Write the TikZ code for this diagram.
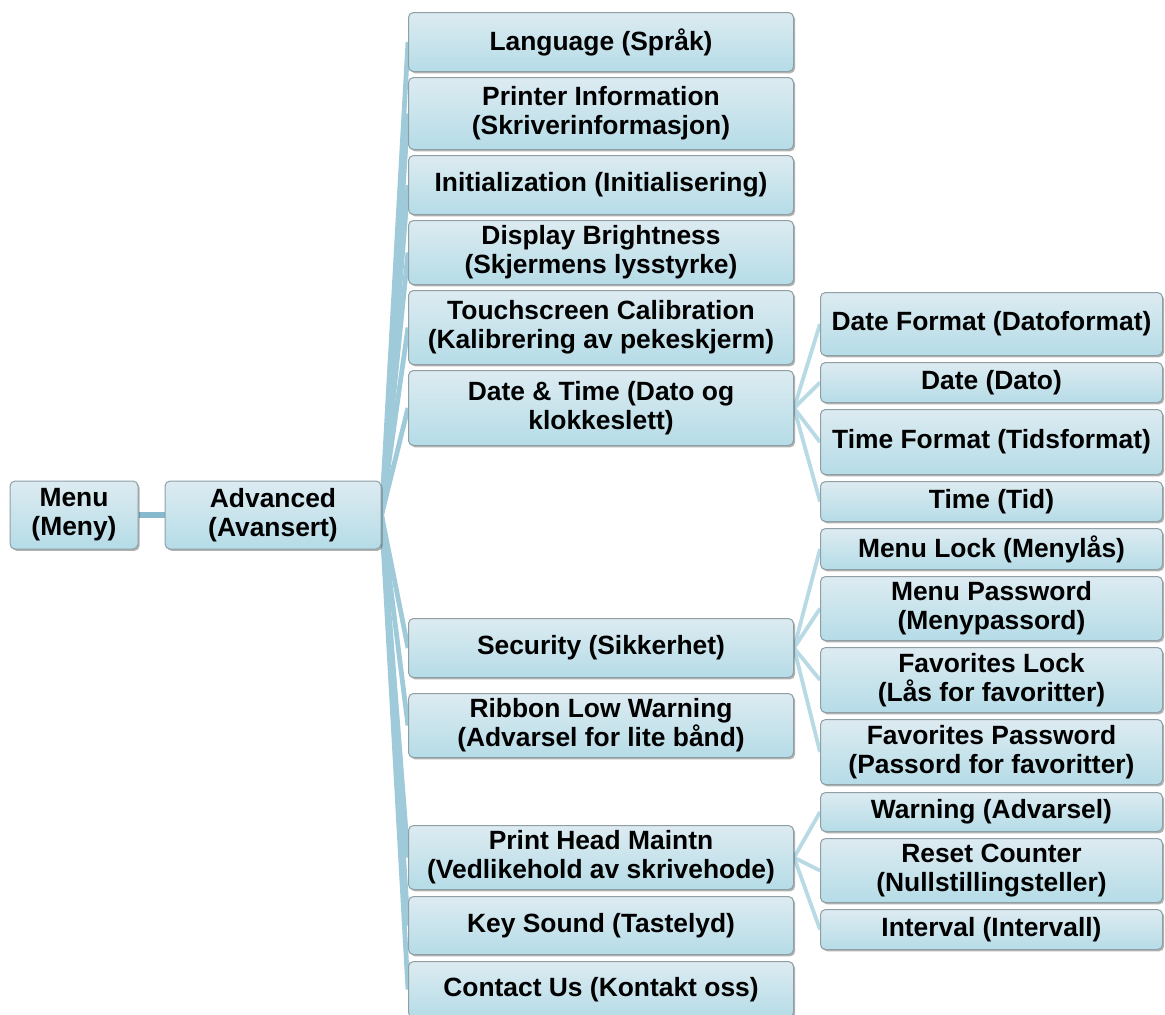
\documentclass[tikz,border=0pt]{standalone}
\usepackage{fontspec}
\setmainfont{Liberation Sans}
\usetikzlibrary{positioning,shadows,backgrounds}
\definecolor{boxtop}{HTML}{DDEBF1}
\definecolor{boxbot}{HTML}{B5DCE7}
\definecolor{boxline}{HTML}{8E9FA6}
\definecolor{linkdark}{HTML}{86B9CE}
\definecolor{linkmid}{HTML}{9FCADA}
\definecolor{linklight}{HTML}{B7DAE4}

\begin{document}
\begin{tikzpicture}[
  x=0.5pt, y=-0.5pt,
  node distance=3pt,
  box/.style={
    draw=boxline, line width=0.5pt, rounded corners=2.5pt,
    top color=boxtop, bottom color=boxbot,
    drop shadow={shadow xshift=0.8pt, shadow yshift=-0.9pt, opacity=0.3, fill=black},
    font=\fontsize{13.2}{14.6}\selectfont\bfseries, align=center,
    inner sep=1pt
  },
  top/.style={box, minimum width=64pt, minimum height=34pt},
  mid/.style={box, minimum width=192.5pt},
  leaf/.style={box, minimum width=171pt},
  lnk/.style={line width=2.4pt, color=linkmid},
  sublnk/.style={line width=1.9pt, color=linklight}
]
  \useasboundingbox (0,0) rectangle (1165,1014);

  % root and first level
  \node[top] (menu) at (74,515) {Menu\\(Meny)};
  \node[top, minimum width=108pt] (adv) at (273,515) {Advanced\\(Avansert)};

  % second level
  \node[mid, minimum height=29.5pt, anchor=north west] (lang) at (408,12) {Language (Språk)};
  \node[mid, minimum height=36pt, below=2.5pt of lang] (info) {Printer Information\\(Skriverinformasjon)};
  \node[mid, minimum height=29.5pt, below=2.5pt of info] (init) {Initialization (Initialisering)};
  \node[mid, minimum height=32pt, below=2.5pt of init] (disp) {Display Brightness\\(Skjermens lysstyrke)};
  \node[mid, minimum height=37pt, below=2.5pt of disp] (touch) {Touchscreen Calibration\\(Kalibrering av pekeskjerm)};
  \node[mid, minimum height=37.5pt, below=2.5pt of touch] (dt) {Date \& Time (Dato og\\klokkeslett)};
  \node[mid, minimum height=29.5pt, anchor=north west] (sec) at (408,618) {Security (Sikkerhet)};
  \node[mid, minimum height=32pt, below=7.5pt of sec] (ribbon) {Ribbon Low Warning\\(Advarsel for lite bånd)};
  \node[mid, minimum height=32pt, anchor=north west] (head) at (408,825) {Print Head Maintn\\(Vedlikehold av skrivehode)};
  \node[mid, minimum height=29pt, below=3pt of head] (key) {Key Sound (Tastelyd)};
  \node[mid, minimum height=28pt, below=3pt of key] (contact) {Contact Us (Kontakt oss)};

  % third level
  \node[leaf, minimum height=31.5pt, anchor=north west] (dfmt) at (820,292) {Date Format (Datoformat)};
  \node[leaf, minimum height=20pt, below=of dfmt] (date) {Date (Dato)};
  \node[leaf, minimum height=32.5pt, below=of date] (tfmt) {Time Format (Tidsformat)};
  \node[leaf, minimum height=20pt, below=of tfmt] (time) {Time (Tid)};
  \node[leaf, minimum height=20.5pt, below=of time] (mlock) {Menu Lock (Menylås)};
  \node[leaf, minimum height=32pt, below=of mlock] (mpwd) {Menu Password\\(Menypassord)};
  \node[leaf, minimum height=32.5pt, below=of mpwd] (flock) {Favorites Lock\\(Lås for favoritter)};
  \node[leaf, minimum height=32.5pt, below=of flock] (fpwd) {Favorites Password\\(Passord for favoritter)};
  \node[leaf, minimum height=19.5pt, below=3.5pt of fpwd] (warn) {Warning (Advarsel)};
  \node[leaf, minimum height=32pt, below=of warn] (reset) {Reset Counter\\(Nullstillingsteller)};
  \node[leaf, minimum height=20pt, below=of reset] (intv) {Interval (Intervall)};

  % connectors
  \begin{scope}[on background layer]
    \draw[line width=3pt, color=linkdark] (menu.east) -- (adv.west);
    \foreach \n in {lang,info,init,disp,touch,dt,sec,ribbon,head,key,contact}
      \draw[lnk] (adv.east) -- (\n.west);
    \foreach \n in {dfmt,date,tfmt,time}
      \draw[sublnk] (dt.east) -- (\n.west);
    \foreach \n in {mlock,mpwd,flock,fpwd}
      \draw[sublnk] (sec.east) -- (\n.west);
    \foreach \n in {warn,reset,intv}
      \draw[sublnk] (head.east) -- (\n.west);
  \end{scope}
\end{tikzpicture}
\end{document}
